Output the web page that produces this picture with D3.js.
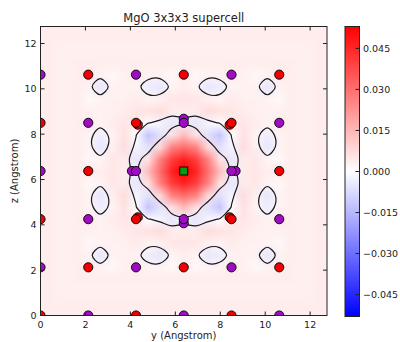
<!DOCTYPE html>
<html><head><meta charset="utf-8">
<script src="https://cdn.jsdelivr.net/npm/d3@7"></script>
<style>html,body{margin:0;padding:0;background:#fff;}svg{display:block;font-family:"DejaVu Sans",sans-serif;}</style>
</head><body><svg id="chart" width="400" height="342"></svg>
<script>
// ---------- data ----------
const chartTitle = "MgO 3x3x3 supercell";
const xLabel = "y (Angstrom)";
const yLabel = "z (Angstrom)";
const cellExtent = [0, 12.75];
const axisTicks = [0, 2, 4, 6, 8, 10, 12];
const colorTicks = [-0.045, -0.030, -0.015, 0.000, 0.015, 0.030, 0.045];
const colorLimit = 0.053;
const densityUnit = 0.001;
// density difference on a 25 x 25 grid (rows from z = 12.75 down to z = 0), in units of 0.001
const densityRows = [
[4,4,4,4,4,4,4,4,4,4,4,4,4,4,4,4,4,4,4,4,4,4,4,4,4],
[4,3.5,3.5,3.5,3.5,3.5,3.5,3.5,3.5,3.5,3.5,3.5,3.5,3.5,3.5,3.5,3.5,3.5,3.5,3.5,3.5,3.5,3.5,3.5,4],
[4,3.5,3,3,3,3,3,3,3,3,3,3,3,3,3,3,3,3,3,3,3,3,3,3.5,4],
[4,3.5,3,3.5,3.5,3.5,3.5,3.5,3.5,3.5,3.5,3.5,3.5,3.5,3.5,3.5,3.5,3.5,3.5,3.5,3.5,3.5,3,3.5,4],
[4,3.5,3,3.5,4,2.5,1.5,3,4,2.5,2.5,1.5,4,1.5,2.5,2.5,4,3,1.5,2.5,4,3.5,3,3.5,4],
[4,3.5,3,3.5,2.5,-5,2.5,3,2.5,-3.5,-5,2,3.5,2,-5,-3.5,2.5,3,2.5,-5,2.5,3.5,3,3.5,4],
[4,3.5,3,3.5,1.5,2.5,3,3,4,2,3,5,5,5,3,2,4,3,3,2.5,1.5,3.5,3,3.5,4],
[4,3.5,3,3.5,3,3,3,4,5,6,7,4,4,4,7,6,5,4,3,3,3,3.5,3,3.5,4],
[4,3.5,3,3.5,4,2.5,4,5,5,0.5,-2,-5,-3,-5,-2,0.5,5,5,4,2.5,4,3.5,3,3.5,4],
[4,3.5,3,3.5,2.5,-3.5,2,6,0.5,-12,-6,6,14,6,-6,-12,0.5,6,2,-3.5,2.5,3.5,3,3.5,4],
[4,3.5,3,3.5,2.5,-5,3,7,-2,-6,8,26,30,26,8,-6,-2,7,3,-5,2.5,3.5,3,3.5,4],
[4,3.5,3,3.5,1.5,2,5,4,-5,6,26,40,46,40,26,6,-5,4,5,2,1.5,3.5,3,3.5,4],
[4,3.5,3,3.5,4,3.5,5,4,-3,14,30,46,53,46,30,14,-3,4,5,3.5,4,3.5,3,3.5,4],
[4,3.5,3,3.5,1.5,2,5,4,-5,6,26,40,46,40,26,6,-5,4,5,2,1.5,3.5,3,3.5,4],
[4,3.5,3,3.5,2.5,-5,3,7,-2,-6,8,26,30,26,8,-6,-2,7,3,-5,2.5,3.5,3,3.5,4],
[4,3.5,3,3.5,2.5,-3.5,2,6,0.5,-12,-6,6,14,6,-6,-12,0.5,6,2,-3.5,2.5,3.5,3,3.5,4],
[4,3.5,3,3.5,4,2.5,4,5,5,0.5,-2,-5,-3,-5,-2,0.5,5,5,4,2.5,4,3.5,3,3.5,4],
[4,3.5,3,3.5,3,3,3,4,5,6,7,4,4,4,7,6,5,4,3,3,3,3.5,3,3.5,4],
[4,3.5,3,3.5,1.5,2.5,3,3,4,2,3,5,5,5,3,2,4,3,3,2.5,1.5,3.5,3,3.5,4],
[4,3.5,3,3.5,2.5,-5,2.5,3,2.5,-3.5,-5,2,3.5,2,-5,-3.5,2.5,3,2.5,-5,2.5,3.5,3,3.5,4],
[4,3.5,3,3.5,4,2.5,1.5,3,4,2.5,2.5,1.5,4,1.5,2.5,2.5,4,3,1.5,2.5,4,3.5,3,3.5,4],
[4,3.5,3,3.5,3.5,3.5,3.5,3.5,3.5,3.5,3.5,3.5,3.5,3.5,3.5,3.5,3.5,3.5,3.5,3.5,3.5,3.5,3,3.5,4],
[4,3.5,3,3,3,3,3,3,3,3,3,3,3,3,3,3,3,3,3,3,3,3,3,3.5,4],
[4,3.5,3.5,3.5,3.5,3.5,3.5,3.5,3.5,3.5,3.5,3.5,3.5,3.5,3.5,3.5,3.5,3.5,3.5,3.5,3.5,3.5,3.5,3.5,4],
[4,4,4,4,4,4,4,4,4,4,4,4,4,4,4,4,4,4,4,4,4,4,4,4,4]
];
// atom sites [y, z] in Angstrom
const redAtoms = [
[0,0],[0,4.25],[0,8.5],
[2.125,2.125],[2.125,6.375],[2.125,10.625],
[4.25,0],[4.25,4.25],[4.25,8.5],
[6.375,2.125],[6.375,10.625],
[8.5,0],[8.5,4.25],[8.5,8.5],
[10.625,2.125],[10.625,6.375],[10.625,10.625]
];
const relaxedRedAtoms = [[4.33,8.42],[8.42,8.42],[4.33,4.33],[8.42,4.33]];
const purpleAtoms = [
[0,2.125],[0,6.375],[0,10.625],
[2.125,0],[2.125,4.25],[2.125,8.5],
[4.25,2.125],[4.25,6.375],[4.25,10.625],
[6.375,0],[6.375,4.25],[6.375,8.5],
[8.5,2.125],[8.5,6.375],[8.5,10.625],
[10.625,0],[10.625,4.25],[10.625,8.5]
];
const relaxedPurpleAtoms = [[4.07,6.375],[8.68,6.375],[6.375,4.07],[6.375,8.68]];
const defectSites = [[6.375,6.375]];

// ---------- layout ----------
const svg = d3.select("#chart");
const x = d3.scaleLinear().domain(cellExtent).range([40.5, 327]);
const y = d3.scaleLinear().domain(cellExtent).range([315.5, 26.5]);
const color = d3.scaleLinear().domain([-colorLimit, 0, colorLimit]).range(["#0000ff", "#ffffff", "#ff0000"]);
const n = densityRows.length;
const step = (cellExtent[1] - cellExtent[0]) / (n - 1);
const ink = "#222";

const defs = svg.append("defs");
defs.append("clipPath").attr("id", "plotClip").append("rect")
  .attr("x", x(cellExtent[0])).attr("y", y(cellExtent[1]))
  .attr("width", x(cellExtent[1]) - x(cellExtent[0]))
  .attr("height", y(cellExtent[0]) - y(cellExtent[1]));

const plot = svg.append("g").attr("clip-path", "url(#plotClip)");

// heat map: grid -> small image -> smoothly scaled
const small = document.createElement("canvas");
small.width = n; small.height = n;
const sctx = small.getContext("2d");
const imgData = sctx.createImageData(n, n);
densityRows.forEach((row, r) => row.forEach((v, c) => {
  const col = d3.rgb(color(v * densityUnit));
  const k = (r * n + c) * 4;
  imgData.data[k] = Math.round(col.r); imgData.data[k+1] = Math.round(col.g);
  imgData.data[k+2] = Math.round(col.b); imgData.data[k+3] = 255;
}));
sctx.putImageData(imgData, 0, 0);
const ix0 = x(cellExtent[0] - step / 2), ix1 = x(cellExtent[1] + step / 2);
const iy0 = y(cellExtent[1] + step / 2), iy1 = y(cellExtent[0] - step / 2);
const W = Math.round(ix1 - ix0), H = Math.round(iy1 - iy0);
const big = document.createElement("canvas");
big.width = W; big.height = H;
const bctx = big.getContext("2d");
bctx.imageSmoothingEnabled = true;
bctx.imageSmoothingQuality = "low";
bctx.drawImage(small, 0, 0, W, H);
plot.append("image").attr("href", big.toDataURL())
  .attr("x", ix0).attr("y", iy0).attr("width", W).attr("height", H)
  .attr("preserveAspectRatio", "none");

// zero contour
const flat = densityRows.flat();
const zeroContour = d3.contours().size([n, n]).thresholds([0])(flat)[0];
const ringLine = d3.line().curve(d3.curveCatmullRomClosed.alpha(0.5));
zeroContour.coordinates.forEach(poly => poly.forEach(ring => {
  if (ring.some(p => p[0] < 0.6 || p[0] > n - 0.6 || p[1] < 0.6 || p[1] > n - 0.6)) return;
  const pts = ring.slice(0, -1).map(p => [x((p[0] - 0.5) * step), y(cellExtent[1] - (p[1] - 0.5) * step)]);
  plot.append("path").attr("d", ringLine(pts)).attr("fill", "none")
    .attr("stroke", "#1a1a1a").attr("stroke-width", 1.2);
}));

// atoms
const atomR = 4.6;
function drawAtoms(list, fill) {
  plot.append("g").selectAll("circle").data(list).join("circle")
    .attr("cx", d => x(d[0])).attr("cy", d => y(d[1])).attr("r", atomR)
    .attr("fill", fill).attr("stroke", "#000").attr("stroke-width", 0.9);
}
drawAtoms(relaxedRedAtoms, "#f00000");
drawAtoms(redAtoms, "#f00000");
drawAtoms(relaxedPurpleAtoms, "#a00cc4");
drawAtoms(purpleAtoms, "#a00cc4");
plot.append("g").selectAll("rect").data(defectSites).join("rect")
  .attr("x", d => x(d[0]) - 4).attr("y", d => y(d[1]) - 4).attr("width", 8).attr("height", 8)
  .attr("fill", "#0a9a0a").attr("stroke", "#000").attr("stroke-width", 0.9);

// frame + ticks
const L = x(cellExtent[0]), R = x(cellExtent[1]), T = y(cellExtent[1]), B = y(cellExtent[0]);
const tickG = svg.append("g").attr("stroke", ink).attr("stroke-width", 1);
axisTicks.forEach(t => {
  tickG.append("line").attr("x1", x(t)).attr("x2", x(t)).attr("y1", B).attr("y2", B - 4);
  tickG.append("line").attr("x1", x(t)).attr("x2", x(t)).attr("y1", T).attr("y2", T + 4);
  tickG.append("line").attr("y1", y(t)).attr("y2", y(t)).attr("x1", L).attr("x2", L + 4);
  tickG.append("line").attr("y1", y(t)).attr("y2", y(t)).attr("x1", R).attr("x2", R - 4);
});
svg.append("rect").attr("x", L).attr("y", T).attr("width", R - L).attr("height", B - T)
  .attr("fill", "none").attr("stroke", ink).attr("stroke-width", 1);

svg.append("g").selectAll("text").data(axisTicks).join("text")
  .attr("x", d => x(d)).attr("y", 328).attr("text-anchor", "middle")
  .attr("font-size", 9.5).attr("fill", ink).text(d => d);
svg.append("g").selectAll("text").data(axisTicks).join("text")
  .attr("x", 36.5).attr("y", d => y(d) + 3.4).attr("text-anchor", "end")
  .attr("font-size", 9.5).attr("fill", ink).text(d => d);

svg.append("text").attr("x", (L + R) / 2).attr("y", 22).attr("text-anchor", "middle")
  .attr("font-size", 11.5).attr("fill", ink).text(chartTitle);
svg.append("text").attr("x", (L + R) / 2).attr("y", 339).attr("text-anchor", "middle")
  .attr("font-size", 10).attr("fill", ink).text(xLabel);
svg.append("text").attr("transform", `translate(18,${(T + B) / 2}) rotate(-90)`)
  .attr("text-anchor", "middle").attr("font-size", 10).attr("fill", ink).text(yLabel);

// colorbar
const cb = d3.scaleLinear().domain([-colorLimit, colorLimit]).range([316.5, 26.5]);
const cbX = 345, cbW = 14.5;
const grad = defs.append("linearGradient").attr("id", "cbGrad")
  .attr("x1", 0).attr("y1", 1).attr("x2", 0).attr("y2", 0);
[-colorLimit, 0, colorLimit].forEach(v => grad.append("stop")
  .attr("offset", (v + colorLimit) / (2 * colorLimit)).attr("stop-color", color(v)));
svg.append("rect").attr("x", cbX).attr("y", cb(colorLimit)).attr("width", cbW)
  .attr("height", cb(-colorLimit) - cb(colorLimit)).attr("fill", "url(#cbGrad)")
  .attr("stroke", ink).attr("stroke-width", 1);
const fmt = d3.format(".3f");
colorTicks.forEach(t => {
  svg.append("line").attr("x1", cbX + cbW).attr("x2", cbX + cbW - 4)
    .attr("y1", cb(t)).attr("y2", cb(t)).attr("stroke", ink);
  svg.append("text").attr("x", 363).attr("y", cb(t) + 3.4).attr("font-size", 9.5)
    .attr("fill", ink).text(fmt(t));
});
</script></body></html>
